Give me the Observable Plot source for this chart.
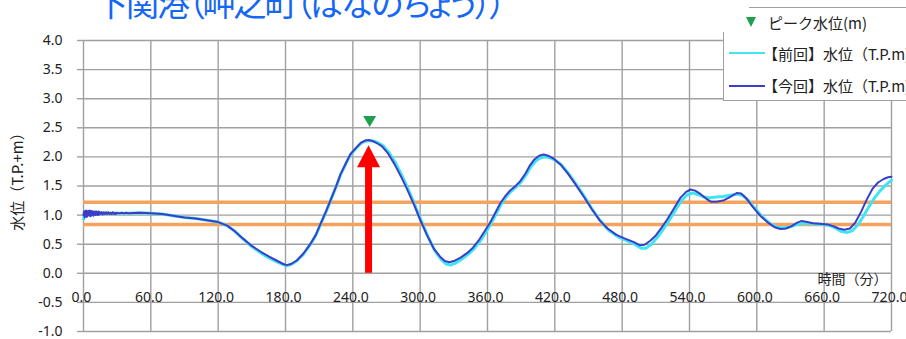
<!DOCTYPE html>
<html><head><meta charset="utf-8">
<script src="https://cdn.jsdelivr.net/npm/d3@7"></script>
<script src="https://cdn.jsdelivr.net/npm/@observablehq/plot@0.6"></script>
<style>
html,body{margin:0;padding:0;background:#fff;}
body{width:906px;height:339px;overflow:hidden;position:relative;font-family:"Noto Sans CJK JP","Noto Sans",sans-serif;}
#chart{position:absolute;left:0;top:0;}
#title{position:absolute;left:95px;top:-14px;font-size:33px;line-height:33px;color:#1466f5;white-space:nowrap;font-feature-settings:"palt";letter-spacing:-2px;}
#legend{position:absolute;left:723px;top:7px;width:200px;height:92px;border:1px solid #a0a0a0;background:#fff;}
#cover{position:absolute;left:700px;top:0;width:49px;height:32px;background:#fff;}
.lt{position:absolute;font-size:15px;line-height:15px;color:#222;white-space:nowrap;}
.ls{position:absolute;height:0;}
#ltri{position:absolute;left:746px;top:17px;width:0;height:0;border-left:5px solid transparent;border-right:5px solid transparent;border-top:10px solid #1ea050;}
</style>
</head><body>
<div id="chart"></div>
<div id="title"></div>
<div id="legend"></div>
<div id="cover"></div>
<div id="ltri"></div>
<div class="lt" id="lt0" style="left:768px;top:15px;"></div>
<div class="ls" style="left:729px;top:52px;width:36px;border-top:2.5px solid #3fe6f2;"></div>
<div class="lt" id="lt1" style="left:763px;top:46px;"></div>
<div class="ls" style="left:729px;top:85px;width:36px;border-top:2px solid #3b3fc8;"></div>
<div class="lt" id="lt2" style="left:763px;top:78px;"></div>
<script>
// ---- data ----
const titleText = "下関港（岬之町（はなのちょう））";
const yLabel = "水位（T.P.+m）";
const xLabel = "時間（分）";
const legendLabels = ["ピーク水位(m)", "【前回】水位（T.P.m)", "【今回】水位（T.P.m)"];

const xTicks = [0, 60, 120, 180, 240, 300, 360, 420, 480, 540, 600, 660, 720];
const yTicks = [-1, -0.5, 0, 0.5, 1, 1.5, 2, 2.5, 3, 3.5, 4];
const warnLevels = [1.22, 0.84];

// 今回 (current) water level
const timeNow = [
  0,0.5,1,1.5,2,2.5,3,3.5,4,4.5,5,5.5,6,6.5,7,7.5,8,8.5,9,9.5,10,10.5,11,11.5,12,12.5,13,13.5,14,14.5,15,
  16,17,18,19,20,21,22,23,24,25,26,27,28,29,30,32,34,36,38,
  40,50,60,70,80,90,100,110,120,128,
  135,142,150,158,165,172,178,181,185,190,
  196,202,207,211,216,220,225,229,234,238,
  243,247,251,254,258,262,266,271,277,283,
  288,294,300,306,312,318,322,326,330,336,
  342,347,352,357,362,367,371,376,380,385,
  389,394,398,402,406,410,414,419,425,431,
  438,446,453,460,467,475,482,490,496,500,
  505,510,515,520,526,532,537,541,545,550,
  555,559,564,570,576,582,586,591,596,603,
  610,616,621,626,631,636,640,645,650,656,
  663,668,673,678,683,688,693,698,703,708,
  713,717,720
];
const levelNow = [
  1.00,1.06,0.96,1.07,0.98,1.08,0.97,1.06,0.99,1.07,1.00,1.08,0.98,1.06,0.99,1.07,1.01,1.06,0.99,1.06,1.01,1.06,1.00,1.06,1.01,1.05,1.00,1.06,1.01,1.05,1.02,
  1.05,1.01,1.05,1.02,1.05,1.02,1.05,1.02,1.04,1.02,1.05,1.02,1.04,1.02,1.04,1.03,1.04,1.03,1.04,
  1.03,1.04,1.03,1.02,0.99,0.96,0.94,0.91,0.88,0.82,
  0.72,0.60,0.47,0.37,0.29,0.22,0.16,0.14,0.16,0.22,
  0.34,0.50,0.66,0.84,1.06,1.25,1.49,1.70,1.90,2.05,
  2.16,2.24,2.28,2.29,2.27,2.23,2.18,2.07,1.88,1.66,
  1.46,1.20,0.92,0.66,0.43,0.28,0.21,0.19,0.21,0.27,
  0.35,0.44,0.56,0.71,0.86,1.04,1.19,1.33,1.42,1.50,
  1.58,1.72,1.86,1.96,2.02,2.04,2.02,1.97,1.87,1.73,
  1.54,1.31,1.10,0.91,0.77,0.66,0.60,0.54,0.48,0.49,
  0.56,0.65,0.78,0.92,1.11,1.30,1.40,1.44,1.42,1.36,
  1.28,1.23,1.23,1.25,1.31,1.38,1.37,1.28,1.15,0.99,
  0.87,0.79,0.76,0.77,0.81,0.87,0.90,0.88,0.86,0.85,
  0.84,0.81,0.77,0.75,0.77,0.88,1.06,1.27,1.45,1.56,
  1.62,1.65,1.66
];

// 前回 (previous) water level
const timePrev = [
  0,1,2,3,4,5,6,8,10,14,20,30,
  40,50,60,70,80,90,100,110,120,128,
  135,142,150,158,165,172,178,181,185,190,
  196,202,207,211,216,220,225,229,234,238,
  243,247,251,255,259,263,267,272,278,284,
  289,295,301,307,313,319,323,327,331,337,
  343,348,353,358,363,368,372,377,381,386,
  390,395,399,403,407,411,415,420,426,432,
  439,447,454,461,468,476,483,491,497,501,
  506,511,516,521,527,533,538,543,548,553,
  558,564,570,576,583,588,593,598,605,612,
  618,624,630,636,642,650,658,665,670,675,
  680,685,690,695,700,705,710,715,720
];
const levelPrev = [
  0.93,0.99,1.02,1.00,1.03,1.01,1.03,1.02,1.03,1.03,1.03,1.03,
  1.03,1.04,1.03,1.02,0.99,0.96,0.94,0.91,0.88,0.82,
  0.72,0.59,0.46,0.35,0.27,0.20,0.15,0.13,0.15,0.21,
  0.33,0.49,0.65,0.83,1.05,1.24,1.48,1.69,1.89,2.04,
  2.15,2.23,2.27,2.28,2.27,2.24,2.19,2.08,1.90,1.67,
  1.46,1.19,0.90,0.63,0.39,0.23,0.16,0.14,0.17,0.24,
  0.33,0.42,0.54,0.69,0.85,1.03,1.18,1.32,1.41,1.49,
  1.57,1.71,1.84,1.93,1.98,2.00,1.99,1.95,1.86,1.72,
  1.53,1.30,1.08,0.89,0.74,0.63,0.57,0.50,0.43,0.43,
  0.50,0.61,0.74,0.88,1.07,1.25,1.35,1.38,1.35,1.31,
  1.30,1.31,1.32,1.34,1.36,1.33,1.24,1.12,0.97,0.85,
  0.79,0.78,0.80,0.84,0.86,0.85,0.84,0.82,0.78,0.72,
  0.70,0.73,0.83,0.98,1.15,1.30,1.42,1.52,1.60
];

const peakTime = [255];
const peakMarkerLevel = [2.61];
const arrowTime = [254];
const arrowBase = 0;
const arrowTip = 2.2;
const axisBase = 0;

// ---- build ----
const nowData = d3.zip(timeNow, levelNow).map(([t, v]) => ({t, v}));
const prevData = d3.zip(timePrev, levelPrev).map(([t, v]) => ({t, v}));
const peakData = d3.zip(peakTime, peakMarkerLevel).map(([t, v]) => ({t, v}));

const downTriangle = {draw(ctx) { ctx.moveTo(-6.5, -5.5); ctx.lineTo(6.5, -5.5); ctx.lineTo(0, 5.5); ctx.closePath(); }};
const arrowHead = {draw(ctx) { ctx.moveTo(0, 0); ctx.lineTo(11.5, 22); ctx.lineTo(-11.5, 22); ctx.closePath(); }};

const grid = "#a0a0a0";
const chart = Plot.plot({
  width: 906, height: 339,
  marginTop: 40, marginBottom: 8, marginLeft: 83, marginRight: 15,
  x: {domain: [xTicks[0], xTicks[xTicks.length - 1]], axis: null},
  y: {domain: [yTicks[0], yTicks[yTicks.length - 1]], axis: null},
  style: {fontFamily: "'Noto Sans', 'Noto Sans CJK JP', sans-serif", fontSize: "14px", color: "#222", background: "white", overflow: "visible"},
  marks: [
    Plot.ruleY(yTicks, {stroke: grid, strokeWidth: 1.4}),
    Plot.ruleX(xTicks, {stroke: grid, strokeWidth: 1.4}),
    Plot.axisY({ticks: yTicks, tickSize: 6, tickPadding: 15, tickFormat: d => d.toFixed(1), stroke: grid, strokeWidth: 1.4, label: null, fontSize: 14, fill: "#222"}),
    Plot.text(xTicks, {x: d => d, y: () => axisBase, dy: 24, dx: -2, text: d => d.toFixed(1), fontSize: 14, fill: "#222"}),
    Plot.text([xLabel], {x: () => xTicks[xTicks.length - 1], y: () => axisBase, dy: 6, dx: -4, textAnchor: "end", fontSize: 14, fill: "#222", fontFamily: "'Noto Sans CJK JP', sans-serif"}),
    Plot.text([yLabel], {frameAnchor: "left", textAnchor: "middle", dx: -65, dy: -8, rotate: -90, fontSize: 15, fill: "#222", fontFamily: "'Noto Sans CJK JP', sans-serif"}),
    Plot.ruleY(warnLevels, {stroke: "#f4a25e", strokeWidth: 3.5}),
    Plot.line(prevData, {x: "t", y: "v", stroke: "#3fe6f2", strokeWidth: 3}),
    Plot.line(nowData, {x: "t", y: "v", stroke: "#3b3fc8", strokeWidth: 2}),
    Plot.ruleX(arrowTime, {y1: () => arrowBase, y2: () => arrowTip - 0.3, stroke: "#ff0000", strokeWidth: 7}),
    Plot.dot(arrowTime, {x: d => d, y: () => arrowTip, symbol: arrowHead, fill: "#ff0000", r: 5}),
    Plot.dot(peakData, {x: "t", y: "v", symbol: downTriangle, fill: "#1ea050", r: 5})
  ]
});
document.getElementById("chart").appendChild(chart);
document.getElementById("title").textContent = titleText;
document.getElementById("lt0").textContent = legendLabels[0];
document.getElementById("lt1").textContent = legendLabels[1];
document.getElementById("lt2").textContent = legendLabels[2];
</script>
</body></html>
